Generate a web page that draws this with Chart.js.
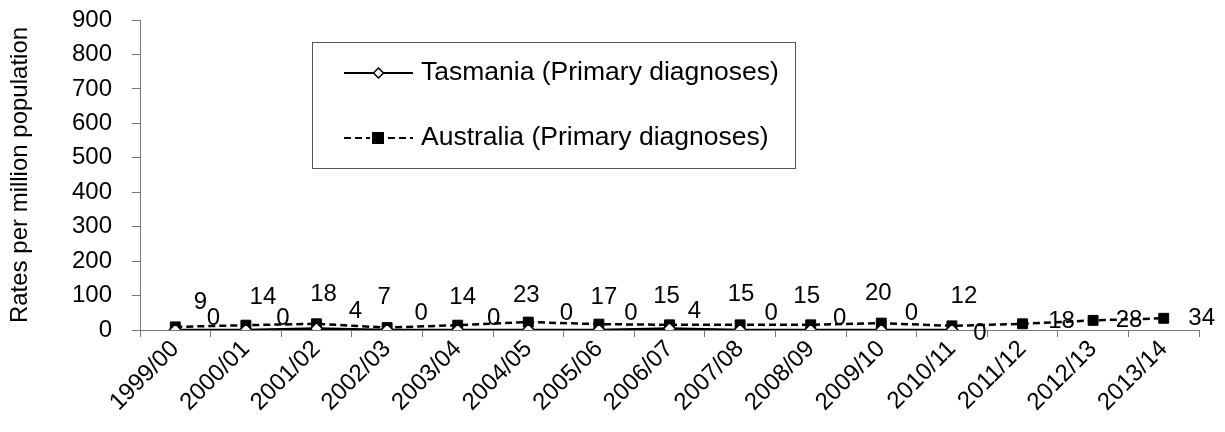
<!DOCTYPE html>
<html>
<head>
<meta charset="utf-8">
<script src="https://cdn.jsdelivr.net/npm/chart.js@4/dist/chart.umd.min.js"></script>
<style>
  html, body { margin: 0; padding: 0; background: #fff; }
  #wrap { width: 1225px; height: 432px; }
</style>
</head>
<body>
<div id="wrap"><canvas id="rateChart" width="1225" height="432"></canvas></div>
<script>
const years = ['1999/00', '2000/01', '2001/02', '2002/03', '2003/04', '2004/05', '2005/06', '2006/07',
    '2007/08', '2008/09', '2009/10', '2010/11', '2011/12', '2012/13', '2013/14'];
const tasmaniaRates = [0, 0, 4, 0, 0, 0, 0, 4, 0, 0, 0, 0, null, null, null];
const australiaRates = [9, 14, 18, 7, 14, 23, 17, 15, 15, 15, 20, 12, 18, 28, 34];
const yTicks = [0, 100, 200, 300, 400, 500, 600, 700, 800, 900];

const FONT = 'Liberation Sans, Arial, sans-serif';

// label placement, px from the point (styling only)
const tasLabelDx = [38, 37, 39, 34, 36, 38, 32, 25, 31, 29, 30, 28];
const tasLabelDy = [-12, -12, -17, -17, -12, -17, -17, -17, -17, -12, -17, 3];
const ausLabelDx = [25, 17, 7, -3, 5, -2, 5, -3, 1, -4, -3, 12, 39, 36, 38];
const ausLabelDy = [-25, -28, -29, -30, -28, -27, -27, -28, -30, -28, -30, -29, -2, 0, 0];

const valueLabels = {
    id: 'valueLabels',
    afterDatasetsDraw(chart) {
        const ctx = chart.ctx;
        ctx.save();
        ctx.font = '24px ' + FONT;
        ctx.fillStyle = '#000';
        ctx.textAlign = 'center';
        ctx.textBaseline = 'middle';
        chart.data.datasets.forEach((ds, di) => {
            const meta = chart.getDatasetMeta(di);
            const dxs = di === 0 ? tasLabelDx : ausLabelDx;
            const dys = di === 0 ? tasLabelDy : ausLabelDy;
            meta.data.forEach((pt, i) => {
                const v = ds.data[i];
                if (v === null || v === undefined) return;
                ctx.fillText(String(v), pt.x + dxs[i], pt.y + dys[i]);
            });
        });
        ctx.restore();
    }
};

const boxLegend = {
    id: 'boxLegend',
    afterDraw(chart) {
        const ctx = chart.ctx;
        ctx.save();
        ctx.strokeStyle = '#555';
        ctx.lineWidth = 1;
        ctx.strokeRect(312.5, 42.5, 483, 126);
        ctx.font = '26.5px ' + FONT;
        ctx.textBaseline = 'middle';
        ctx.textAlign = 'left';
        chart.data.datasets.forEach((ds, di) => {
            const y = di === 0 ? 73 : 138;
            ctx.strokeStyle = '#000';
            ctx.lineWidth = 2;
            ctx.setLineDash(ds.borderDash || []);
            ctx.beginPath();
            ctx.moveTo(344, y);
            ctx.lineTo(413, y);
            ctx.stroke();
            ctx.setLineDash([]);
            if (di === 0) {
                ctx.fillStyle = '#fff';
                ctx.lineWidth = 1.5;
                ctx.beginPath();
                ctx.moveTo(378.5, y - 5);
                ctx.lineTo(383.5, y);
                ctx.lineTo(378.5, y + 5);
                ctx.lineTo(373.5, y);
                ctx.closePath();
                ctx.fill();
                ctx.stroke();
            } else {
                ctx.fillStyle = '#fff';
                ctx.fillRect(370, y - 7, 16, 14);
                ctx.fillStyle = '#000';
                ctx.fillRect(372, y - 6, 12, 12);
            }
            ctx.fillStyle = '#000';
            ctx.fillText(ds.label, 421, y);
        });
        ctx.restore();
    }
};

const ctx = document.getElementById('rateChart').getContext('2d');
const rateChart = new Chart(ctx, {
    type: 'line',
    data: {
        labels: years,
        datasets: [
            {
                label: 'Tasmania (Primary diagnoses)',
                data: tasmaniaRates,
                borderColor: '#000',
                borderWidth: 2.5,
                pointStyle: 'rectRot',
                pointRadius: 6,
                pointBackgroundColor: '#fff',
                pointBorderColor: '#000',
                pointBorderWidth: 1.5,
                fill: false,
                tension: 0
            },
            {
                label: 'Australia (Primary diagnoses)',
                data: australiaRates,
                borderColor: '#000',
                borderWidth: 2.5,
                borderDash: [7, 4],
                pointStyle: 'rect',
                pointRadius: 7,
                pointBackgroundColor: '#000',
                pointBorderColor: '#000',
                pointBorderWidth: 1,
                fill: false,
                tension: 0
            }
        ]
    },
    options: {
        responsive: false,
        animation: false,
        layout: { padding: { top: 20, right: 26, left: 0, bottom: 0 } },
        plugins: {
            legend: { display: false },
            tooltip: { enabled: false }
        },
        scales: {
            x: {
                offset: true,
                grid: { display: true, offset: true, drawOnChartArea: false, color: '#777', tickLength: 7 },
                border: { color: '#777', width: 1 },
                ticks: {
                    color: '#000',
                    font: { family: FONT, size: 24 },
                    maxRotation: 45,
                    minRotation: 45,
                    autoSkip: false,
                    padding: -2
                },
                afterFit(scale) { scale.height = 102; }
            },
            y: {
                min: 0,
                max: 900,
                afterBuildTicks(scale) { scale.ticks = yTicks.map(v => ({ value: v })); },
                grid: { display: true, drawOnChartArea: false, color: '#777', tickLength: 8 },
                border: { color: '#777', width: 1 },
                ticks: {
                    color: '#000',
                    font: { family: FONT, size: 24 },
                    padding: 20
                },
                title: {
                    display: true,
                    text: 'Rates per million population',
                    color: '#000',
                    font: { family: FONT, size: 24 },
                    padding: { top: 6, bottom: 0 }
                },
                afterFit(scale) {
                    scale.width = 140;
                    scale.paddingTop = 0;
                    scale.paddingBottom = 0;
                }
            }
        }
    },
    plugins: [valueLabels, boxLegend]
});
</script>
</body>
</html>
